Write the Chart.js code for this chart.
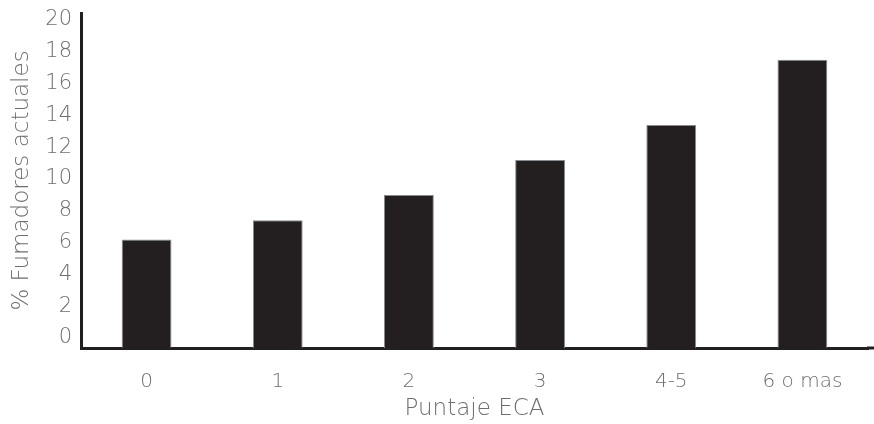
<!DOCTYPE html>
<html>
<head>
<meta charset="utf-8">
<script src="https://cdn.jsdelivr.net/npm/chart.js@4.4.1/dist/chart.umd.min.js"></script>
<style>
  html, body { margin: 0; padding: 0; background: #fff; }
  #wrap { width: 874px; height: 424px; }
</style>
</head>
<body>
<div id="wrap"><canvas id="barChart" width="874" height="424"></canvas></div>
<script>
// data
const categories = ['0', '1', '2', '3', '4-5', '6 o mas'];
const smokers = [6.2, 7.4, 9.0, 11.2, 13.4, 17.5];
const yTicks = [0, 2, 4, 6, 8, 10, 12, 14, 16, 18, 20];

const Y_MIN = -0.63;
const Y_MAX = 20.44;
const ink = '#231f20';
const grey = '#6d6e71';
const font = '"DejaVu Sans", sans-serif';

// x axis line runs on to the right edge of the picture
const axisExtend = {
  id: 'axisExtend',
  afterDraw(chart) {
    const { ctx, chartArea } = chart;
    ctx.save();
    ctx.strokeStyle = ink;
    ctx.lineWidth = 3;
    ctx.beginPath();
    ctx.moveTo(chartArea.right - 1, chartArea.bottom);
    ctx.lineTo(chart.width, chartArea.bottom);
    ctx.stroke();
    ctx.restore();
  }
};

const ctx = document.getElementById('barChart').getContext('2d');
new Chart(ctx, {
  type: 'bar',
  data: {
    labels: categories,
    datasets: [{
      data: smokers,
      base: Y_MIN,
      backgroundColor: ink,
      borderColor: '#8a8b8e',
      borderWidth: 1,
      barPercentage: 0.38,
      categoryPercentage: 1
    }]
  },
  options: {
    responsive: false,
    animation: false,
    layout: { padding: { top: 13, right: 6, left: 8, bottom: 0 } },
    plugins: { legend: { display: false }, tooltip: { enabled: false } },
    scales: {
      x: {
        grid: { display: false, drawTicks: false },
        border: { display: true, color: ink, width: 3 },
        ticks: { color: grey, padding: 22, font: { family: font, size: 20, weight: 200 } },
        title: {
          display: true, text: 'Puntaje ECA', color: grey,
          padding: { top: 2, bottom: 1 },
          font: { family: font, size: 23, weight: 200 }
        },
        afterFit(scale) { scale.height = 76; }
      },
      y: {
        min: Y_MIN,
        max: Y_MAX,
        grid: { display: true, drawOnChartArea: false, drawTicks: true, tickLength: 9, color: 'rgba(0,0,0,0)' },
        border: { display: true, color: ink, width: 3 },
        afterBuildTicks(scale) { scale.ticks = yTicks.map(v => ({ value: v })); },
        ticks: { color: grey, padding: 0, font: { family: font, size: 21, weight: 200 } },
        title: {
          display: true, text: '% Fumadores actuales', color: grey,
          padding: 0,
          font: { family: font, size: 23, weight: 200 }
        },
        afterFit(scale) { scale.width = 73; }
      }
    }
  },
  plugins: [axisExtend]
});
</script>
</body>
</html>
